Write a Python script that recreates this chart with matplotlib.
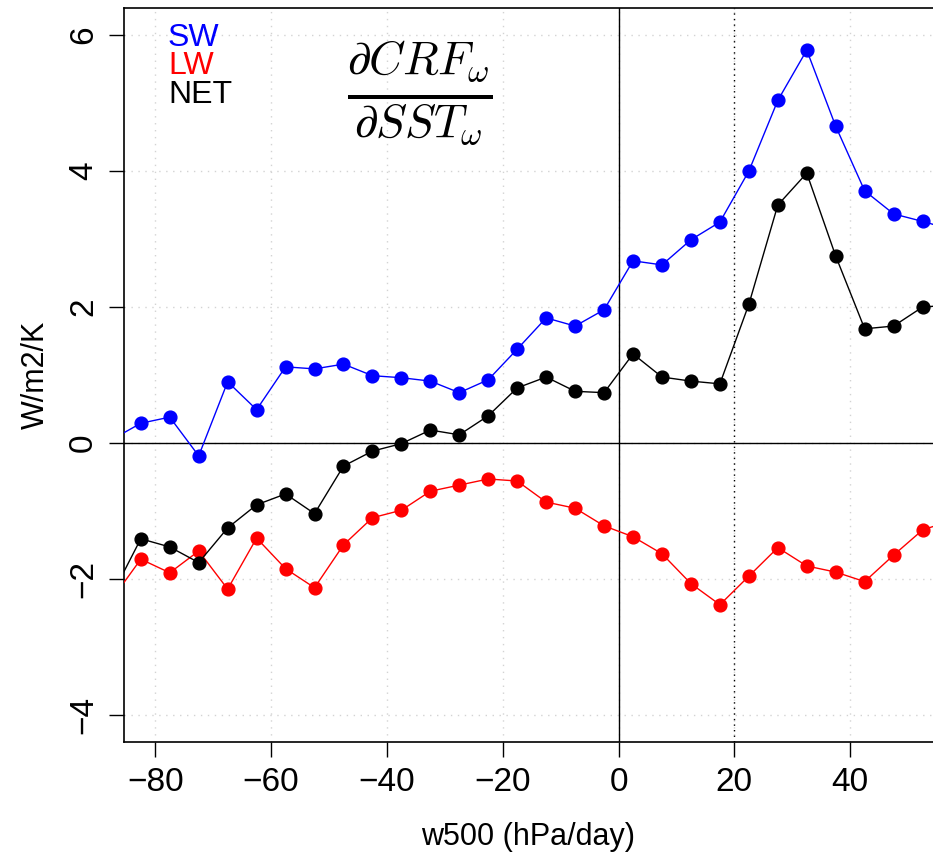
import matplotlib
matplotlib.use("Agg")
import matplotlib.pyplot as plt
import numpy as np

plt.rcParams['font.family'] = ['Liberation Sans', 'DejaVu Sans']
plt.rcParams['mathtext.fontset'] = 'cm'

# bin centres of w500 (hPa/day); first/last bins lie just outside the plotted range
w500 = np.arange(-87.5, 60, 5)

sw = [0.05, 0.29, 0.38, -0.19, 0.90, 0.49, 1.12, 1.09, 1.16, 0.99, 0.96, 0.91, 0.74,
      0.93, 1.38, 1.84, 1.72, 1.96, 2.68, 2.62, 2.99, 3.25, 4.00, 5.04, 5.78, 4.66,
      3.71, 3.37, 3.26, 3.14]
lw = [-2.30, -1.71, -1.91, -1.59, -2.15, -1.40, -1.85, -2.13, -1.50, -1.10, -0.99, -0.71,
      -0.62, -0.53, -0.56, -0.87, -0.96, -1.22, -1.38, -1.63, -2.07, -2.38, -1.96, -1.54,
      -1.81, -1.90, -2.04, -1.65, -1.28, -1.14]
net = [-2.24, -1.41, -1.53, -1.76, -1.25, -0.91, -0.75, -1.04, -0.34, -0.12, -0.01, 0.19,
       0.12, 0.40, 0.81, 0.97, 0.76, 0.74, 1.31, 0.97, 0.91, 0.87, 2.04, 3.50, 3.97, 2.75,
       1.68, 1.72, 2.00, 2.03]

fig = plt.figure(figsize=(9.33, 8.59), dpi=100)
ax = fig.add_axes([124/933, 117/859, 1 - 124/933, 734/859])

for v in [-80, -60, -40, -20, 0, 20, 40]:
    ax.axvline(v, color='lightgray', ls=(0, (1, 4)), lw=1, zorder=0)
for v in [-4, -2, 0, 2, 4, 6]:
    ax.axhline(v, color='lightgray', ls=(0, (1, 4)), lw=1, zorder=0)
ax.axvline(20, color='black', ls=(0, (1, 3)), lw=1, zorder=1)
ax.axvline(0, color='black', lw=1, zorder=1)
ax.axhline(0, color='black', lw=1, zorder=1)

ax.plot(w500, sw, color='blue', lw=1.0, marker='o', ms=9.2, zorder=3)
ax.plot(w500, lw, color='red', lw=1.0, marker='o', ms=9.2, zorder=3)
ax.plot(w500, net, color='black', lw=1.0, marker='o', ms=9.2, zorder=3)

ax.set_xlim(-85.4, 54.3)
ax.set_ylim(-4.4, 6.4)
ax.set_xticks([-80, -60, -40, -20, 0, 20, 40])
ax.set_yticks([-4, -2, 0, 2, 4, 6])
ax.set_xticklabels(['\u221280', '\u221260', '\u221240', '\u221220', '0', '20', '40'])
ax.set_yticklabels(['\u22124', '\u22122', '0', '2', '4', '6'], rotation=90, va='center')
ax.tick_params(direction='out', length=11, width=1, labelsize=24, pad=7)
ax.spines['right'].set_visible(False)
for s in ['left', 'top', 'bottom']:
    ax.spines[s].set_linewidth(1.2)

ax.set_xlabel('w500 (hPa/day)', fontsize=22, labelpad=17)
ax.set_ylabel('W/m2/K', fontsize=22, labelpad=12)

ax.text(-77.8, 5.96, 'SW', color='blue', fontsize=23, va='center')
ax.text(-77.8, 5.54, 'LW', color='red', fontsize=23, va='center')
ax.text(-77.8, 5.12, 'NET', color='black', fontsize=23, va='center')
ax.text(-34.3, 5.15, r'$\frac{\partial CRF_\omega}{\partial SST_\omega}$', fontsize=48,
        ha='center', va='center')

fig.savefig('out.png', dpi=100)
